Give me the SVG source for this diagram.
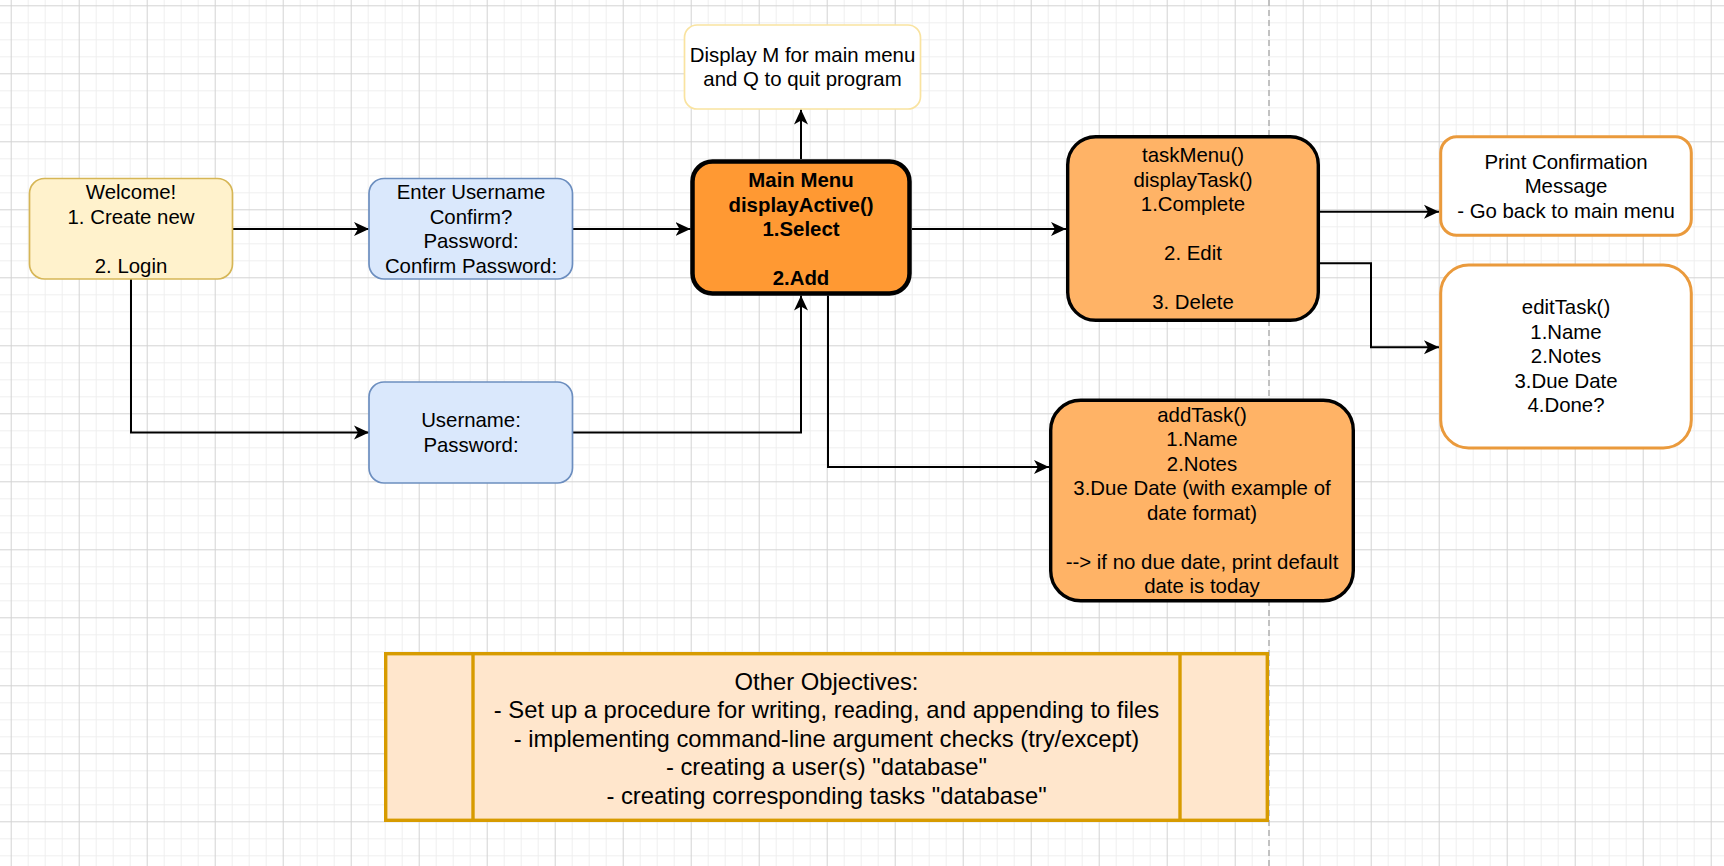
<svg xmlns="http://www.w3.org/2000/svg" width="1724" height="866" viewBox="0 0 1724 866">
<style>
text{font-family:"Liberation Sans",Arial,sans-serif;font-size:20.4px;fill:#000;text-anchor:middle}
.b{font-weight:bold}
.big{font-size:23.8px}
.edge{fill:none;stroke:#000;stroke-width:2}
</style>
<defs>
<pattern id="grid" width="68" height="68" patternUnits="userSpaceOnUse" x="10.7" y="5.3">
<path d="M17.5,0V68M34.5,0V68M51.5,0V68M0,17.5H68M0,34.5H68M0,51.5H68" stroke="#efefef" stroke-width="1" fill="none"/>
<path d="M0.5,0V68M0,0.5H68" stroke="#d3d3d3" stroke-width="1" fill="none"/>
</pattern>
<marker id="arr" viewBox="0 0 16 16" markerWidth="16" markerHeight="16" refX="15" refY="8" orient="auto" markerUnits="userSpaceOnUse">
<path d="M0,1 L15,8 L0,15 L4,8 Z" fill="#000"/>
</marker>
</defs>
<rect width="1724" height="866" fill="#fff"/>
<rect width="1724" height="866" fill="url(#grid)"/>
<line x1="1269" y1="0" x2="1269" y2="866" stroke="#b8b8b8" stroke-width="1.7" stroke-dasharray="6 4"/>

<g id="connectors">
<path class="edge" d="M233,229 H369" marker-end="url(#arr)"/>
<path class="edge" d="M131,279 V432.5 H369" marker-end="url(#arr)"/>
<path class="edge" d="M573,229 H690.5" marker-end="url(#arr)"/>
<path class="edge" d="M573,432.5 H801 V295.5" marker-end="url(#arr)"/>
<path class="edge" d="M801,159 V109.5" marker-end="url(#arr)"/>
<path class="edge" d="M828,295.5 V467 H1049" marker-end="url(#arr)"/>
<path class="edge" d="M912,229 H1066" marker-end="url(#arr)"/>
<path class="edge" d="M1320,211.7 H1439" marker-end="url(#arr)"/>
<path class="edge" d="M1320,263.3 H1371 V347.3 H1439" marker-end="url(#arr)"/>
</g>

<g id="welcome">
<rect x="29.5" y="178.5" width="203" height="100.5" rx="15" fill="#fff2cc" stroke="#d6b656" stroke-width="1.7"/>
<text x="131" y="199.3">Welcome!</text>
<text x="131" y="223.8">1. Create new</text>
<text x="131" y="272.7">2. Login</text>
</g>

<g id="enterUsername">
<rect x="369" y="178.5" width="203.5" height="100.5" rx="15" fill="#dae8fc" stroke="#6c8ebf" stroke-width="1.7"/>
<text x="471" y="199.3">Enter Username</text>
<text x="471" y="223.8">Confirm?</text>
<text x="471" y="248.3">Password:</text>
<text x="471" y="272.7">Confirm Password:</text>
</g>

<g id="login">
<rect x="369" y="382" width="203.5" height="101" rx="15" fill="#dae8fc" stroke="#6c8ebf" stroke-width="1.7"/>
<text x="471" y="427.3">Username:</text>
<text x="471" y="451.8">Password:</text>
</g>

<g id="mainMenu">
<rect x="692.5" y="161.5" width="217" height="132" rx="20" fill="#ff9933" stroke="#000" stroke-width="4.5"/>
<text class="b" x="801" y="187">Main Menu</text>
<text class="b" x="801" y="211.5">displayActive()</text>
<text class="b" x="801" y="236">1.Select</text>
<text class="b" x="801" y="285">2.Add</text>
</g>

<g id="display">
<rect x="684.5" y="25" width="236" height="84" rx="12.6" fill="#fff" stroke="#f9e3a0" stroke-width="1.7"/>
<text x="802.5" y="61.8">Display M for main menu</text>
<text x="802.5" y="86.3">and Q to quit program</text>
</g>

<g id="taskMenu">
<rect x="1067.7" y="136.7" width="250.6" height="183.6" rx="28" fill="#ffb366" stroke="#000" stroke-width="3.4"/>
<text x="1193" y="162.1">taskMenu()</text>
<text x="1193" y="186.6">displayTask()</text>
<text x="1193" y="211.1">1.Complete</text>
<text x="1193" y="260">2. Edit</text>
<text x="1193" y="309">3. Delete</text>
</g>

<g id="printConfirmation">
<rect x="1440.7" y="136.7" width="250.6" height="98.6" rx="16" fill="#fff" stroke="#ea9a3c" stroke-width="3"/>
<text x="1566" y="168.5">Print Confirmation</text>
<text x="1566" y="193">Message</text>
<text x="1566" y="217.5">- Go back to main menu</text>
</g>

<g id="editTask">
<rect x="1440.7" y="265" width="250.6" height="183" rx="28" fill="#fff" stroke="#ea9a3c" stroke-width="3"/>
<text x="1566" y="314">editTask()</text>
<text x="1566" y="338.5">1.Name</text>
<text x="1566" y="363">2.Notes</text>
<text x="1566" y="387.5">3.Due Date</text>
<text x="1566" y="412">4.Done?</text>
</g>

<g id="addTask">
<rect x="1050.7" y="400.2" width="302.6" height="200.6" rx="30" fill="#ffb366" stroke="#000" stroke-width="3.4"/>
<text x="1202" y="421.8">addTask()</text>
<text x="1202" y="446.3">1.Name</text>
<text x="1202" y="470.8">2.Notes</text>
<text x="1202" y="495.3">3.Due Date (with example of</text>
<text x="1202" y="519.7">date format)</text>
<text x="1202" y="568.7">--&gt; if no due date, print default</text>
<text x="1202" y="593.2">date is today</text>
</g>

<g id="objectives">
<rect x="385.7" y="653.7" width="881.6" height="166.6" fill="#ffe6cc" stroke="#d79b00" stroke-width="3.4"/>
<line x1="473" y1="653.7" x2="473" y2="820.3" stroke="#d79b00" stroke-width="3.4"/>
<line x1="1180" y1="653.7" x2="1180" y2="820.3" stroke="#d79b00" stroke-width="3.4"/>
<text class="big" x="826.5" y="689.5">Other Objectives:</text>
<text class="big" x="826.5" y="718">- Set up a procedure for writing, reading, and appending to files</text>
<text class="big" x="826.5" y="746.5">- implementing command-line argument checks (try/except)</text>
<text class="big" x="826.5" y="775">- creating a user(s) "database"</text>
<text class="big" x="826.5" y="803.5">- creating corresponding tasks "database"</text>
</g>
</svg>
